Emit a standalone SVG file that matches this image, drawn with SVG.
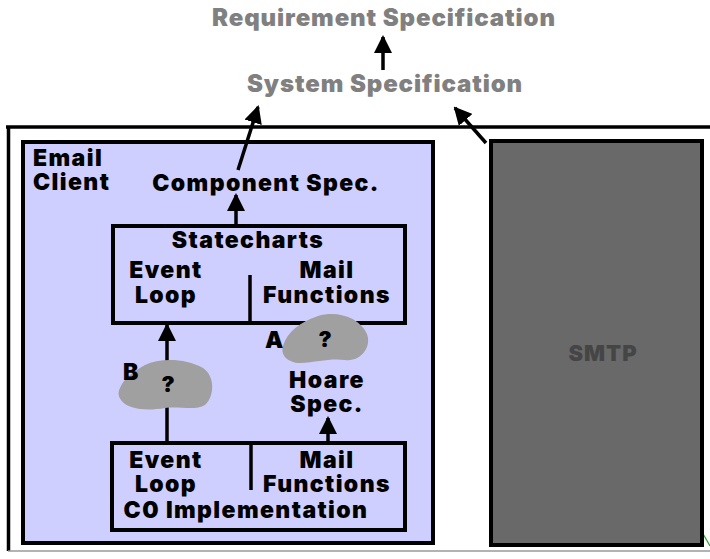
<svg xmlns="http://www.w3.org/2000/svg" width="710" height="559" viewBox="0 0 710 559">
  <style>
    text { font-family: "Inter", "DejaVu Sans", sans-serif; font-weight: 900; }
    .title { fill: #808080; font-size: 24px; letter-spacing: 0.9px; text-anchor: middle; }
    .lbl { fill: #000; font-size: 23px; letter-spacing: 1.4px; }
    .mid { text-anchor: middle; }
    .q { fill: #000; font-size: 22px; text-anchor: middle; }
    .box { fill: none; stroke: #000; stroke-width: 4; }
    .cloud { fill: #A0A0A0; stroke: none; }
    .conn { stroke: #000; stroke-width: 3.5; fill: none; marker-end: url(#head); }
  </style>
  <defs>
    <marker id="head" markerUnits="userSpaceOnUse" markerWidth="18" markerHeight="18" viewBox="0 0 18 18" refX="16" refY="9" orient="auto">
      <path d="M0,0 L18,9 L0,18 Z" fill="#000"/>
    </marker>
  </defs>

  <rect width="710" height="559" fill="#fff"/>

  <!-- outer frame (open to the right) -->
  <g id="frame">
    <line x1="6" y1="127" x2="710" y2="127" stroke="#000" stroke-width="3.5"/>
    <line x1="8.5" y1="126" x2="8.5" y2="551" stroke="#000" stroke-width="3.5"/>
    <line x1="8" y1="551" x2="710" y2="551" stroke="#9a9a9a" stroke-width="1.5"/>
    <line x1="702" y1="532" x2="710" y2="546" stroke="#2aa02a" stroke-width="1.2"/>
  </g>

  <g id="requirement-spec">
    <text class="title" x="384" y="26">Requirement Specification</text>
  </g>
  <g id="system-spec">
    <text class="title" x="385" y="92">System Specification</text>
  </g>

  <g id="email-client">
    <rect x="23" y="142" width="410" height="401" fill="#CFCFFF" stroke="#000" stroke-width="4"/>
    <text class="lbl" x="33" y="166">Email</text>
    <text class="lbl" x="33" y="190">Client</text>
  </g>

  <g id="smtp">
    <rect x="491" y="141" width="211" height="404" fill="#696969" stroke="#000" stroke-width="4"/>
    <text x="603" y="361" fill="#454545" font-size="22" letter-spacing="1" text-anchor="middle">SMTP</text>
  </g>

  <g id="component-spec">
    <text class="lbl mid" x="266" y="191">Component Spec.</text>
  </g>

  <g id="statecharts">
    <rect class="box" x="113" y="226" width="292" height="97"/>
    <line x1="250" y1="275" x2="250" y2="323" stroke="#000" stroke-width="3.5"/>
    <text class="lbl mid" x="248" y="248">Statecharts</text>
    <text class="lbl mid" x="166" y="278">Event</text>
    <text class="lbl mid" x="166" y="303">Loop</text>
    <text class="lbl mid" x="327" y="278">Mail</text>
    <text class="lbl mid" x="327" y="303">Functions</text>
  </g>

  <g id="hoare-spec">
    <text class="lbl mid" x="327" y="388">Hoare</text>
    <text class="lbl mid" x="327" y="412">Spec.</text>
  </g>

  <g id="c0-implementation">
    <rect class="box" x="112" y="443" width="293" height="87"/>
    <line x1="251" y1="443" x2="251" y2="490" stroke="#000" stroke-width="3.5"/>
    <text class="lbl mid" x="166" y="468">Event</text>
    <text class="lbl mid" x="166" y="492">Loop</text>
    <text class="lbl mid" x="327" y="468">Mail</text>
    <text class="lbl mid" x="327" y="492">Functions</text>
    <text class="lbl mid" x="246" y="518">C0 Implementation</text>
  </g>

  <g id="connectors">
    <line class="conn" x1="383" y1="70" x2="383" y2="37"/>
    <line class="conn" x1="238" y1="170" x2="258" y2="107"/>
    <line class="conn" x1="486" y1="143" x2="455" y2="108"/>
    <line class="conn" x1="236" y1="226" x2="236" y2="195"/>
    <line class="conn" x1="167" y1="443" x2="167" y2="325"/>
    <line class="conn" x1="328" y1="443" x2="328" y2="418"/>
  </g>

  <g id="gap-a">
    <path class="cloud" d="M283,346 C287,332 300,322 318,316 C338,310 360,318 367,334 C372,348 360,362 345,360 C330,358 318,362 300,363 C288,363 280,355 283,346 Z"/>
    <text class="lbl" x="265" y="348">A</text>
    <text class="q" x="325" y="347">?</text>
  </g>

  <g id="gap-b">
    <path class="cloud" d="M120,388 C124,378 133,372 145,365 C160,358 185,358 203,368 C215,376 215,396 205,405 C195,411 180,406 165,408 C148,411 128,410 121,400 C118,396 118,392 120,388 Z"/>
    <text class="lbl" x="123" y="380">B</text>
    <text class="q" x="168" y="392">?</text>
  </g>
</svg>
